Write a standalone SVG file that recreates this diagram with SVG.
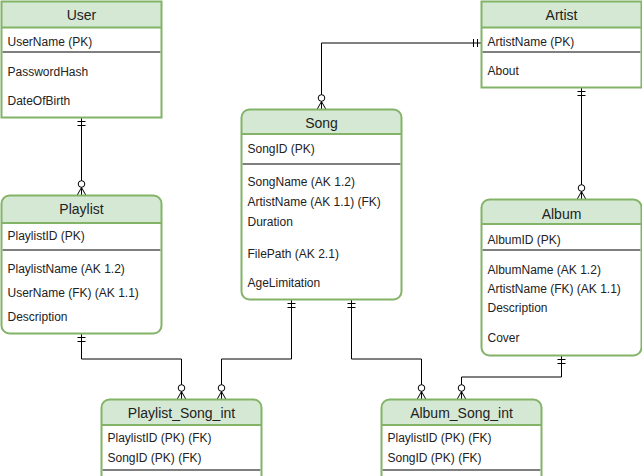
<svg xmlns="http://www.w3.org/2000/svg" width="642" height="476" viewBox="0 0 642 476">
<style>
  .frame { fill: none; stroke: #82b366; stroke-width: 2; }
  .body { fill: #ffffff; stroke: none; }
  .head { fill: #d5e8d4; stroke: none; }
  .hline { stroke: #82b366; stroke-width: 2; }
  .div { stroke: #000000; stroke-width: 1; }
  .title { font-family: "Liberation Sans", Arial, sans-serif; font-size: 14px; fill: #222; text-anchor: middle; }
  .row { font-family: "Liberation Sans", Arial, sans-serif; font-size: 12px; fill: #222; }
  .edge { fill: none; stroke: #000000; stroke-width: 1; }
  .mk { fill: none; stroke: #000000; stroke-width: 1; }
</style>
<defs>
  <marker id="one" markerUnits="userSpaceOnUse" viewBox="-15 -10 20 20" markerWidth="20" markerHeight="20" refX="0" refY="0" orient="auto-start-reverse" overflow="visible">
    <path class="mk" d="M-4,-4 V4 M-8,-4 V4"/>
  </marker>
  <marker id="many" markerUnits="userSpaceOnUse" viewBox="-18 -10 20 20" markerWidth="20" markerHeight="20" refX="0" refY="0" orient="auto" overflow="visible">
    <path class="mk" d="M0,-4.5 L-8,0 L0,4.5 M0,0 H-8"/>
    <circle cx="-11.5" cy="0" r="3.3" fill="#ffffff" stroke="#000000" stroke-width="1"/>
  </marker>
</defs>

<g id="connectors">
  <path class="edge" d="M81.5,117.5 V195.5" marker-start="url(#one)" marker-end="url(#many)"/>
  <path class="edge" d="M481.5,43 H321.5 V109.5" marker-start="url(#one)" marker-end="url(#many)"/>
  <path class="edge" d="M581.5,87.5 V199.5" marker-start="url(#one)" marker-end="url(#many)"/>
  <path class="edge" d="M81.5,333.5 V359 H181.5 V399.5" marker-start="url(#one)" marker-end="url(#many)"/>
  <path class="edge" d="M291.5,299.5 V359 H221.5 V399.5" marker-start="url(#one)" marker-end="url(#many)"/>
  <path class="edge" d="M351.5,299.5 V359 H421.5 V399.5" marker-start="url(#one)" marker-end="url(#many)"/>
  <path class="edge" d="M561.5,355.5 V377 H461.5 V399.5" marker-start="url(#one)" marker-end="url(#many)"/>
</g>

<g id="user">
  <rect class="body" x="1.5" y="1.5" width="160" height="116"/>
  <rect class="head" x="1.5" y="1.5" width="160" height="26"/>
  <line class="hline" x1="1.5" y1="27.5" x2="161.5" y2="27.5"/>
  <line class="div" x1="2.5" y1="52" x2="160.5" y2="52"/>
  <rect class="frame" x="1.5" y="1.5" width="160" height="116"/>
  <text class="title" x="81.5" y="20">User</text>
  <text class="row" x="7.5" y="46">UserName (PK)</text>
  <text class="row" x="7.5" y="76">PasswordHash</text>
  <text class="row" x="7.5" y="105">DateOfBirth</text>
</g>

<g id="artist">
  <rect class="body" x="481.5" y="1.5" width="160" height="86"/>
  <rect class="head" x="481.5" y="1.5" width="160" height="26"/>
  <line class="hline" x1="481.5" y1="27.5" x2="641.5" y2="27.5"/>
  <line class="div" x1="482.5" y1="52" x2="640.5" y2="52"/>
  <rect class="frame" x="481.5" y="1.5" width="160" height="86"/>
  <text class="title" x="561.5" y="20">Artist</text>
  <text class="row" x="487.5" y="46">ArtistName (PK)</text>
  <text class="row" x="487.5" y="75">About</text>
</g>

<g id="song">
  <rect class="body" x="241.5" y="109.5" width="160" height="190" rx="8"/>
  <path class="head" d="M241.5,134 V117.5 Q241.5,109.5 249.5,109.5 H393.5 Q401.5,109.5 401.5,117.5 V134 Z"/>
  <line class="hline" x1="241.5" y1="134" x2="401.5" y2="134"/>
  <line class="div" x1="242.5" y1="164" x2="400.5" y2="164"/>
  <rect class="frame" x="241.5" y="109.5" width="160" height="190" rx="8"/>
  <text class="title" x="321.5" y="128">Song</text>
  <text class="row" x="247.5" y="153">SongID (PK)</text>
  <text class="row" x="247.5" y="186">SongName (AK 1.2)</text>
  <text class="row" x="247.5" y="206">ArtistName (AK 1.1) (FK)</text>
  <text class="row" x="247.5" y="226">Duration</text>
  <text class="row" x="247.5" y="258">FilePath (AK 2.1)</text>
  <text class="row" x="247.5" y="287">AgeLimitation</text>
</g>

<g id="playlist">
  <rect class="body" x="1.5" y="195.5" width="160" height="138" rx="8"/>
  <path class="head" d="M1.5,223 V203.5 Q1.5,195.5 9.5,195.5 H153.5 Q161.5,195.5 161.5,203.5 V223 Z"/>
  <line class="hline" x1="1.5" y1="223" x2="161.5" y2="223"/>
  <line class="div" x1="2.5" y1="250" x2="160.5" y2="250"/>
  <rect class="frame" x="1.5" y="195.5" width="160" height="138" rx="8"/>
  <text class="title" x="81.5" y="214">Playlist</text>
  <text class="row" x="7.5" y="240">PlaylistID (PK)</text>
  <text class="row" x="7.5" y="273">PlaylistName (AK 1.2)</text>
  <text class="row" x="7.5" y="297">UserName (FK) (AK 1.1)</text>
  <text class="row" x="7.5" y="321">Description</text>
</g>

<g id="album">
  <rect class="body" x="481.5" y="199.5" width="160" height="156" rx="8"/>
  <path class="head" d="M481.5,224 V207.5 Q481.5,199.5 489.5,199.5 H633.5 Q641.5,199.5 641.5,207.5 V224 Z"/>
  <line class="hline" x1="481.5" y1="224" x2="641.5" y2="224"/>
  <line class="div" x1="482.5" y1="250" x2="640.5" y2="250"/>
  <rect class="frame" x="481.5" y="199.5" width="160" height="156" rx="8"/>
  <text class="title" x="561.5" y="219">Album</text>
  <text class="row" x="487.5" y="244">AlbumID (PK)</text>
  <text class="row" x="487.5" y="274">AlbumName (AK 1.2)</text>
  <text class="row" x="487.5" y="293">ArtistName (FK) (AK 1.1)</text>
  <text class="row" x="487.5" y="312">Description</text>
  <text class="row" x="487.5" y="342">Cover</text>
</g>

<g id="playlist_song_int">
  <rect class="body" x="101.5" y="399.5" width="160" height="120" rx="8"/>
  <path class="head" d="M101.5,425 V407.5 Q101.5,399.5 109.5,399.5 H253.5 Q261.5,399.5 261.5,407.5 V425 Z"/>
  <line class="hline" x1="101.5" y1="425" x2="261.5" y2="425"/>
  <line class="div" x1="102.5" y1="470" x2="260.5" y2="470"/>
  <rect class="frame" x="101.5" y="399.5" width="160" height="120" rx="8"/>
  <text class="title" x="181.5" y="418">Playlist_Song_int</text>
  <text class="row" x="107.5" y="442">PlaylistID (PK) (FK)</text>
  <text class="row" x="107.5" y="462">SongID (PK) (FK)</text>
</g>

<g id="album_song_int">
  <rect class="body" x="381.5" y="399.5" width="160" height="120" rx="8"/>
  <path class="head" d="M381.5,425 V407.5 Q381.5,399.5 389.5,399.5 H533.5 Q541.5,399.5 541.5,407.5 V425 Z"/>
  <line class="hline" x1="381.5" y1="425" x2="541.5" y2="425"/>
  <line class="div" x1="382.5" y1="470" x2="540.5" y2="470"/>
  <rect class="frame" x="381.5" y="399.5" width="160" height="120" rx="8"/>
  <text class="title" x="461.5" y="418">Album_Song_int</text>
  <text class="row" x="387.5" y="442">PlaylistID (PK) (FK)</text>
  <text class="row" x="387.5" y="462">SongID (PK) (FK)</text>
</g>
</svg>
